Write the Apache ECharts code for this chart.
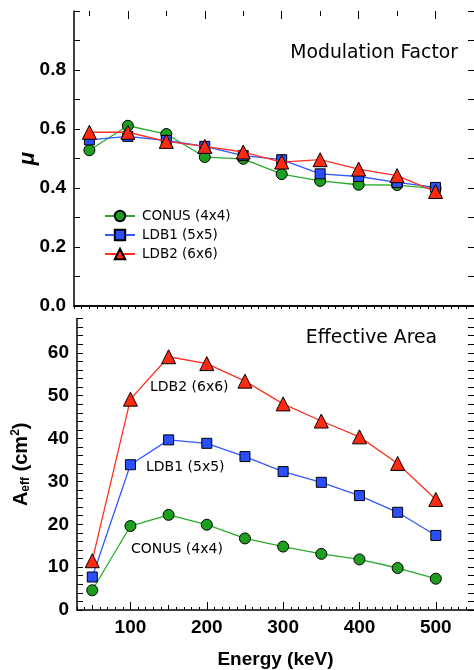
<!DOCTYPE html>
<html>
<head>
<meta charset="utf-8">
<script src="https://cdn.jsdelivr.net/npm/echarts@6/dist/echarts.min.js"></script>
<style>
  html, body { margin: 0; padding: 0; background: #fff; }
  #chart { width: 474px; height: 670px; }
</style>
</head>
<body>
<div id="chart"></div>
<script>
// 能量点 (keV)
var energy = [50, 100, 150, 200, 250, 300, 350, 400, 450, 500];

// 调制因子 mu
var muConus = [0.528, 0.611, 0.583, 0.505, 0.499, 0.447, 0.424, 0.411, 0.410, 0.398];
var muLdb1 = [0.563, 0.575, 0.561, 0.541, 0.510, 0.496, 0.448, 0.439, 0.419, 0.402];
var muLdb2 = [0.589, 0.589, 0.558, 0.541, 0.522, 0.488, 0.496, 0.464, 0.442, 0.388];

// 有效面积 (cm^2)
var areaConus = [4.6, 19.6, 22.2, 19.9, 16.7, 14.8, 13.1, 11.8, 9.8, 7.3];
var areaLdb1 = [7.7, 33.9, 39.7, 38.9, 35.8, 32.3, 29.8, 26.7, 22.8, 17.4];
var areaLdb2 = [11.5, 49.2, 59.1, 57.5, 53.4, 48.1, 44.1, 40.4, 34.2, 25.8];

var seriesNames = ['CONUS (4x4)', 'LDB1 (5x5)', 'LDB2 (6x6)'];
var xTicks50 = [50, 100, 150, 200, 250, 300, 350, 400, 450, 500, 550];
var xTicks100 = [100, 200, 300, 400, 500];

var labelFont = '"Liberation Sans", Arial, sans-serif';
var textFont = '"DejaVu Sans", sans-serif';

var styles = [
  { line: '#2aaa2a', fill: '#1e9e1e', symbol: 'circle', size: 11 },
  { line: '#3358ff', fill: '#2a4fff', symbol: 'rect', size: 10 },
  { line: '#ff3020', fill: '#ff2a10', symbol: 'triangle', size: 14 }
];

var pair = function (ys) {
  return energy.map(function (x, i) { return [x, ys[i]]; });
};

// x 轴刻度：小刻度每 10，中刻度每 50，大刻度每 100
var xAxes = function (gridIndex, pos, withLabels) {
  var base = { type: 'value', gridIndex: gridIndex, position: pos, min: 30, max: 550,
    splitLine: { show: false }, axisLabel: { show: false } };
  return [
    Object.assign({}, base, {
      interval: 10,
      axisLine: { show: true, lineStyle: { color: '#000', width: 1.5 } },
      axisTick: { show: true, inside: true, length: 3, lineStyle: { color: '#000' } }
    }),
    Object.assign({}, base, {
      axisLine: { show: false },
      axisTick: { show: true, inside: true, length: 5, customValues: xTicks50, lineStyle: { color: '#000' } }
    }),
    Object.assign({}, base, {
      axisLine: { show: false },
      axisTick: { show: true, inside: true, length: 8, customValues: xTicks100, lineStyle: { color: '#000' } },
      axisLabel: withLabels ? {
        show: true, customValues: xTicks100, margin: 8,
        fontFamily: labelFont, fontWeight: 'bold', fontSize: 19, color: '#000'
      } : { show: false },
      name: withLabels ? 'Energy (keV)' : '',
      nameLocation: 'middle',
      nameGap: 40,
      nameTextStyle: { fontFamily: labelFont, fontWeight: 'bold', fontSize: 19, color: '#000' }
    })
  ];
};

var xAxis = [].concat(
  // 上图: 底线 (系列用) + 顶部刻度
  [{ type: 'value', gridIndex: 0, position: 'bottom', min: 30, max: 550,
     axisLine: { show: true, lineStyle: { color: '#000', width: 1.5 } },
     axisTick: { show: false }, axisLabel: { show: false }, splitLine: { show: false } }],
  xAxes(0, 'top', false),
  xAxes(1, 'bottom', true)
);

var yAxis = [
  {
    type: 'value', gridIndex: 0, position: 'left', min: 0, max: 1, interval: 0.1,
    axisLine: { show: true, lineStyle: { color: '#000', width: 1.5 } },
    axisTick: { show: true, inside: true, length: 6, lineStyle: { color: '#000' } },
    axisLabel: {
      margin: 8, fontFamily: labelFont, fontWeight: 'bold', fontSize: 19, color: '#000',
      formatter: function (v) {
        var k = Math.round(v * 10);
        return (k % 2 === 0 && k < 10) ? (k / 10).toFixed(1) : '';
      }
    },
    splitLine: { show: false },
    name: 'μ', nameLocation: 'middle', nameGap: 35, nameRotate: 90, nameMoveOverlap: false,
    nameTextStyle: { fontFamily: labelFont, fontWeight: 'bold', fontStyle: 'italic', fontSize: 22, color: '#000' }
  },
  {
    type: 'value', gridIndex: 0, position: 'right', min: 0, max: 1, interval: 0.1,
    axisLine: { show: false },
    axisTick: { show: true, inside: true, length: 6, lineStyle: { color: '#000' } },
    axisLabel: { show: false }, splitLine: { show: false }
  },
  {
    type: 'value', gridIndex: 1, position: 'left', min: 0, max: 68, interval: 2,
    axisLine: { show: true, lineStyle: { color: '#000', width: 1.5 } },
    axisTick: { show: true, inside: true, length: 6, lineStyle: { color: '#000' } },
    axisLabel: {
      margin: 8, fontFamily: labelFont, fontWeight: 'bold', fontSize: 19, color: '#000',
      formatter: function (v) { return v % 10 === 0 ? String(v) : ''; }
    },
    splitLine: { show: false },
    name: '{a|A}{s|eff}{a| (cm}{p|2}{a|)}', nameLocation: 'middle', nameGap: 43, nameRotate: 90,
    nameTextStyle: {
      fontFamily: labelFont, fontWeight: 'bold', fontSize: 20, color: '#000',
      rich: {
        a: { fontFamily: labelFont, fontWeight: 'bold', fontSize: 20, color: '#000', lineHeight: 26, verticalAlign: 'middle' },
        s: { fontFamily: labelFont, fontWeight: 'bold', fontSize: 12, color: '#000', lineHeight: 26, verticalAlign: 'bottom', padding: [0, 0, 2, 0] },
        p: { fontFamily: labelFont, fontWeight: 'bold', fontSize: 12, color: '#000', lineHeight: 26, verticalAlign: 'top', padding: [2, 0, 0, 0] }
      }
    }
  },
  {
    type: 'value', gridIndex: 1, position: 'right', min: 0, max: 68, interval: 2,
    axisLine: { show: false },
    axisTick: { show: true, inside: true, length: 6, lineStyle: { color: '#000' } },
    axisLabel: { show: false }, splitLine: { show: false }
  }
];

var makeSeries = function (idx, data, xi, yi, withName) {
  var st = styles[idx];
  return {
    name: withName ? seriesNames[idx] : seriesNames[idx] + ' ',
    type: 'line',
    xAxisIndex: xi,
    yAxisIndex: yi,
    data: pair(data),
    symbol: st.symbol,
    symbolSize: st.size,
    showAllSymbol: true,
    lineStyle: { color: st.line, width: 1.3 },
    itemStyle: { color: st.fill, borderColor: '#000', borderWidth: 1 },
    animation: false,
    z: 3 + idx
  };
};

var series = [
  makeSeries(0, muConus, 0, 0, true),
  makeSeries(1, muLdb1, 0, 0, true),
  makeSeries(2, muLdb2, 0, 0, true),
  makeSeries(0, areaConus, 4, 2, false),
  makeSeries(1, areaLdb1, 4, 2, false),
  makeSeries(2, areaLdb2, 4, 2, false)
];

var option = {
  backgroundColor: '#fff',
  animation: false,
  grid: [
    { left: 74, top: 11, right: -2, height: 295 },
    { left: 74, top: 318.6, right: -2, height: 294.7 }
  ],
  xAxis: xAxis,
  yAxis: yAxis,
  legend: {
    data: seriesNames,
    orient: 'vertical',
    left: 99,
    top: 204,
    itemWidth: 30,
    itemHeight: 13,
    itemGap: 5,
    textStyle: { fontFamily: textFont, fontSize: 13.5, color: '#000', padding: [0, 0, 0, 2] }
  },
  graphic: [
    { type: 'text', x: 458, y: 53, style: { text: 'Modulation Factor', align: 'right', verticalAlign: 'middle', font: '18.8px "DejaVu Sans", sans-serif', fill: '#000' } },
    { type: 'text', x: 437, y: 338, style: { text: 'Effective Area', align: 'right', verticalAlign: 'middle', font: '18.8px "DejaVu Sans", sans-serif', fill: '#000' } },
    { type: 'text', x: 150, y: 387, style: { text: 'LDB2 (6x6)', align: 'left', verticalAlign: 'middle', font: '14px "DejaVu Sans", sans-serif', fill: '#000' } },
    { type: 'text', x: 146, y: 467, style: { text: 'LDB1 (5x5)', align: 'left', verticalAlign: 'middle', font: '14px "DejaVu Sans", sans-serif', fill: '#000' } },
    { type: 'text', x: 131, y: 549, style: { text: 'CONUS (4x4)', align: 'left', verticalAlign: 'middle', font: '14px "DejaVu Sans", sans-serif', fill: '#000' } }
  ],
  series: series
};

var myChart = echarts.init(document.getElementById('chart'));
myChart.setOption(option);
</script>
</body>
</html>
